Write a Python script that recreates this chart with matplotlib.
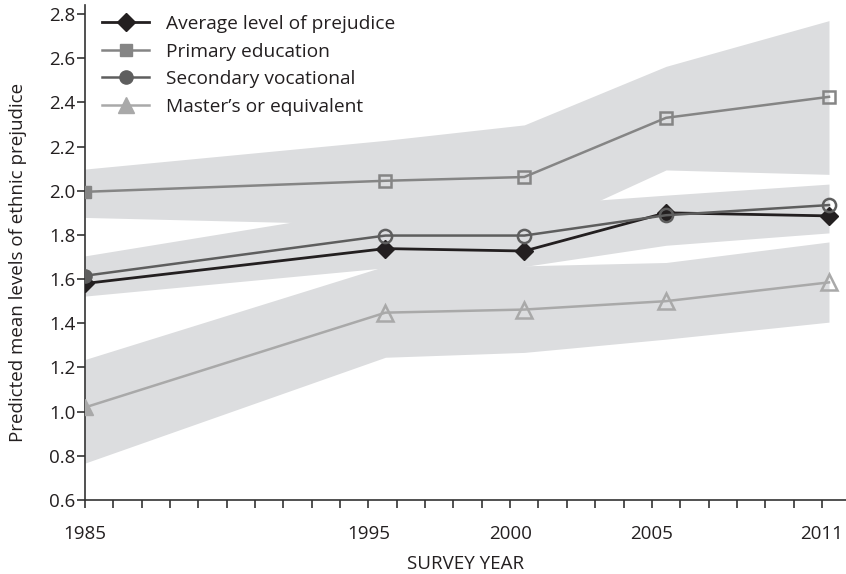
import matplotlib
matplotlib.use("Agg")
import matplotlib.pyplot as plt
from matplotlib.ticker import MultipleLocator

plt.rcParams['font.family'] = ['Open Sans', 'DejaVu Sans']

# Survey waves (plotted positions on a continuous year axis)
years = [1985, 1995.6, 2000.5, 2005.5, 2011.25]

# Predicted mean levels of ethnic prejudice
average = [1.58, 1.738, 1.727, 1.900, 1.886]
primary = [1.995, 2.045, 2.062, 2.33, 2.425]
secondary = [1.615, 1.797, 1.797, 1.889, 1.935]
masters = [1.019, 1.448, 1.462, 1.500, 1.585]

# Confidence bands
primary_lo = [1.879, 1.846, 1.80, 2.094, 2.074]
primary_hi = [2.098, 2.228, 2.298, 2.563, 2.77]
secondary_lo = [1.523, 1.651, 1.657, 1.753, 1.809]
secondary_hi = [1.705, 1.927, 1.934, 1.980, 2.030]
masters_lo = [0.767, 1.246, 1.268, 1.328, 1.405]
masters_hi = [1.236, 1.659, 1.660, 1.675, 1.768]

labels = ["Average level of prejudice", "Primary education",
          "Secondary vocational", "Master\u2019s or equivalent"]
xtick_labels = ["1985", "1995", "2000", "2005", "2011"]
xtick_pos = [1985, 1995, 2000, 2005, 2011]
ytick_vals = [0.6, 0.8, 1.0, 1.2, 1.4, 1.6, 1.8, 2.0, 2.2, 2.4, 2.6, 2.8]
ytick_labels = ["0.6", "0.8", "1.0", "1.2", "1.4", "1.6", "1.8",
                "2.0", "2.2", "2.4", "2.6", "2.8"]

band_color = "#dcdddf"
c_avg = "#231f20"
c_prim = "#858585"
c_sec = "#5e5e5e"
c_mast = "#a9a9a9"
c_text = "#231f20"

fig = plt.figure(figsize=(8.46, 5.74), dpi=100)
ax = fig.add_axes([0.1005, 0.129, 0.8995, 0.862])

for lo, hi in [(primary_lo, primary_hi), (secondary_lo, secondary_hi),
               (masters_lo, masters_hi)]:
    ax.fill_between(years, lo, hi, color=band_color, lw=0, zorder=1)

def series(vals, color, marker, ms, lw, z, label):
    ax.plot(years, vals, color=color, lw=lw, zorder=z)
    # first wave drawn filled, later waves hollow
    ax.plot(years[:1], vals[:1], ls='none', marker=marker, ms=ms,
            color=color, zorder=z + 0.5)
    ax.plot(years[1:], vals[1:], ls='none', marker=marker, ms=ms,
            markerfacecolor='none', markeredgecolor=color,
            markeredgewidth=1.8, zorder=z + 0.5)
    ax.plot([], [], color=color, lw=lw, marker=marker, ms=ms, label=label)

ax.plot(years, average, color=c_avg, lw=2.0, marker='D', ms=9, zorder=3,
        label=labels[0])
series(primary, c_prim, 's', 9, 1.8, 4, labels[1])
series(secondary, c_sec, 'o', 9.5, 1.8, 4, labels[2])
series(masters, c_mast, '^', 11, 1.8, 4, labels[3])

ax.set_xlim(1985, 2011.85)
ax.set_ylim(0.6, 2.84)
ax.set_yticks(ytick_vals)
ax.set_yticklabels(ytick_labels)
ax.set_xticks(xtick_pos)
ax.set_xticklabels(xtick_labels)
ax.xaxis.set_minor_locator(MultipleLocator(1))

for side in ['top', 'right']:
    ax.spines[side].set_visible(False)
for side in ['left', 'bottom']:
    ax.spines[side].set_color('#333333')
    ax.spines[side].set_linewidth(1.2)

ax.tick_params(axis='both', which='both', direction='out', color='#333333',
               width=1.2, labelsize=13.5, labelcolor=c_text)
ax.tick_params(axis='x', which='both', length=6, pad=12)
ax.tick_params(axis='y', length=6, pad=1)

fig.text(18 / 846, 1 - 262 / 574, "Predicted mean levels of ethnic prejudice",
         rotation=90, ha='center', va='center', fontsize=13.5, color=c_text)
ax.set_xlabel("SURVEY YEAR", fontsize=13.5, color=c_text, labelpad=9)

leg = ax.legend(loc='upper left', bbox_to_anchor=(0.0, 1.015), frameon=False,
                fontsize=13.8, handlelength=2.45, handletextpad=0.9,
                labelspacing=0.5, labelcolor=c_text)

fig.savefig("out.png", dpi=100)
